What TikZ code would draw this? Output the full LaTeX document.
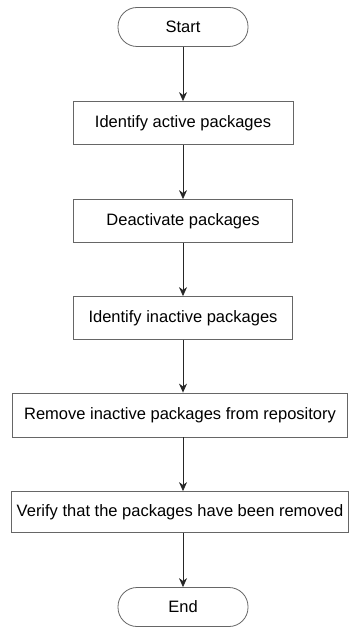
\documentclass[tikz,border=0pt]{standalone}
\usepackage{fontspec}
\setmainfont{Liberation Sans}
\usetikzlibrary{positioning,arrows.meta}

\begin{document}
\begin{tikzpicture}[x=1pt,y=-1pt,
    stepbox/.style={draw=black!60, line width=0.8pt, minimum height=43pt,
      inner sep=0pt, font=\fontsize{16.5}{18}\selectfont},
    termbox/.style={draw=black!60, line width=0.8pt, rounded corners=19pt,
      minimum width=130pt, minimum height=39pt, inner sep=0pt,
      font=\fontsize{16.5}{18}\selectfont},
    flow/.style={-{Stealth[length=9pt,width=8pt]}, line width=0.8pt, black!85}]
%      \draw[help lines] (0,0) grid[step=50] (349,628);
      \useasboundingbox (0,0) rectangle (349,628);

      \node[termbox] (start) at (183,27) {Start};

      \node[stepbox, minimum width=220pt] (active)   at (183,123) {Identify active packages};
      \node[stepbox, minimum width=219pt] (deact)    at (183,221) {Deactivate packages};
      \node[stepbox, minimum width=219pt] (inactive) at (183,318) {Identify inactive packages};
      \node[stepbox, minimum width=335pt, minimum height=44pt] (remove) at (180,415) {Remove inactive packages from repository};
      \node[stepbox, minimum width=337pt, minimum height=41pt] (verify) at (180,512) {Verify that the packages have been removed};

      \node[termbox] (finish) at (183,607) {End};

      \draw[flow] (start) -- (active);
      \draw[flow] (active) -- (deact);
      \draw[flow] (deact) -- (inactive);
      \draw[flow] (inactive) -- (inactive |- remove.north);
      \draw[flow] (inactive |- remove.south) -- (inactive |- verify.north);
      \draw[flow] (inactive |- verify.south) -- (finish);
\end{tikzpicture}
\end{document}
